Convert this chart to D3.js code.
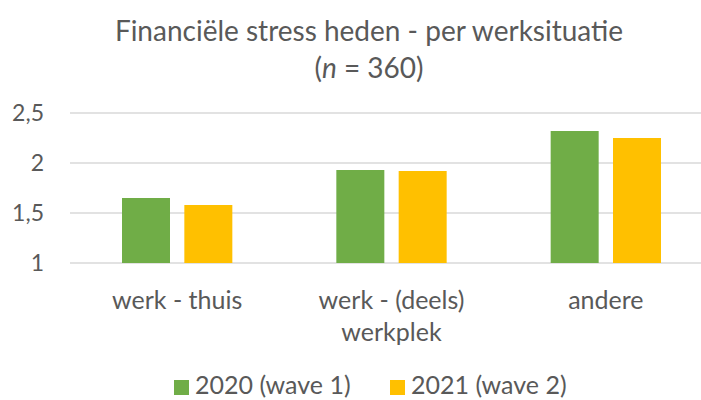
<!DOCTYPE html>
<html>
<head>
<meta charset="utf-8">
<script src="https://cdn.jsdelivr.net/npm/d3@7"></script>
<style>
  body { margin: 0; background: #fff; }
  text { font-family: Lato, "Open Sans", sans-serif; fill: #595959; }
</style>
</head>
<body>
<div id="chart"></div>
<script>
// data
var categories = [["werk - thuis"], ["werk - (deels)", "werkplek"], ["andere"]];
var seriesNames = ["2020 (wave 1)", "2021 (wave 2)"];
var wave1 = [1.65, 1.93, 2.32];
var wave2 = [1.58, 1.92, 2.25];
var yTicks = [1, 1.5, 2, 2.5];
var colors = ["#70AD47", "#FFC000"];

var svgWidth = 701;
var svgHeight = 400;
var margin = { top: 113, right: -12, bottom: 137, left: 70 };
var width = svgWidth - margin.left - margin.right;
var height = svgHeight - margin.top - margin.bottom;

var svg = d3.select("#chart")
  .append("svg")
  .attr("width", svgWidth)
  .attr("height", svgHeight);

// title
var title = svg.append("text")
  .attr("text-anchor", "middle")
  .attr("font-size", "28px");
title.append("tspan")
  .attr("x", 369).attr("y", 41)
  .text("Financiële stress heden - per werksituatie");
var sub = title.append("tspan")
  .attr("x", 369).attr("y", 78);
sub.append("tspan").text("(");
sub.append("tspan").attr("font-style", "italic").text("n");
sub.append("tspan").text(" = 360)");

var chartGroup = svg.append("g")
  .attr("transform", `translate(${margin.left}, ${margin.top})`);

var x0 = d3.scaleBand()
  .domain(d3.range(categories.length))
  .range([0, width]);

var x1 = d3.scaleBand()
  .domain([0, 1])
  .range([52, x0.bandwidth() - 52])
  .paddingInner(0.23);

var y = d3.scaleLinear()
  .domain([1, 2.5])
  .range([height, 0]);

// gridlines
chartGroup.selectAll(".grid")
  .data(yTicks)
  .enter()
  .append("line")
  .attr("x1", 0)
  .attr("x2", width)
  .attr("y1", d => y(d))
  .attr("y2", d => y(d))
  .attr("stroke", "#d9d9d9")
  .attr("stroke-width", 1.4);

// y axis labels
var leftAxis = d3.axisLeft(y)
  .tickValues(yTicks)
  .tickSize(0)
  .tickPadding(26)
  .tickFormat(d => String(d).replace(".", ","));
var yAxis = chartGroup.append("g").call(leftAxis);
yAxis.select(".domain").remove();
yAxis.selectAll("text")
  .attr("font-size", "23px")
  .attr("fill", "#595959")
  .attr("font-family", "Lato, 'Open Sans', sans-serif");

// bars
var values = [wave1, wave2];
var groups = chartGroup.selectAll(".cat")
  .data(categories)
  .enter()
  .append("g")
  .attr("transform", (d, i) => `translate(${x0(i)}, 0)`);

groups.selectAll("rect")
  .data((d, i) => values.map((s, k) => ({ k: k, v: s[i] })))
  .enter()
  .append("rect")
  .attr("x", d => x1(d.k))
  .attr("width", x1.bandwidth())
  .attr("y", d => y(d.v))
  .attr("height", d => y(1) - y(d.v))
  .attr("fill", d => colors[d.k]);

// category labels
groups.append("text")
  .attr("text-anchor", "middle")
  .attr("font-size", "25px")
  .selectAll("tspan")
  .data(d => d)
  .enter()
  .append("tspan")
  .attr("x", x0.bandwidth() / 2)
  .attr("y", (d, i) => height + 46 + i * 32)
  .text(d => d);

// legend
var legendX = [174, 390];
var legend = svg.selectAll(".legend")
  .data(seriesNames)
  .enter()
  .append("g")
  .attr("transform", (d, i) => `translate(${legendX[i]}, 387)`);
legend.append("rect")
  .attr("x", 0)
  .attr("y", -7)
  .attr("width", 15)
  .attr("height", 15)
  .attr("fill", (d, i) => colors[i]);
legend.append("text")
  .attr("x", 21)
  .attr("y", 7)
  .attr("font-size", "25px")
  .text(d => d);
</script>
</body>
</html>
